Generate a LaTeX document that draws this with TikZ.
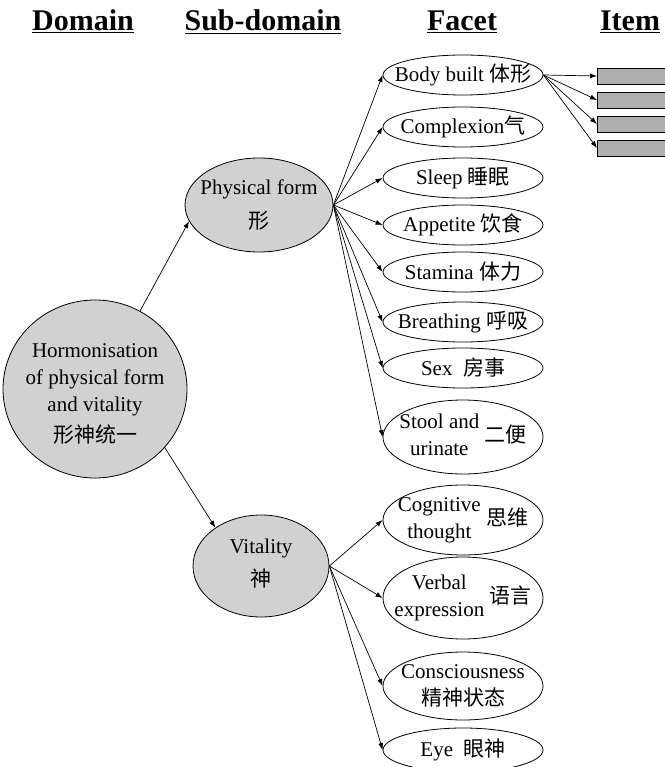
\documentclass[tikz,border=0pt]{standalone}
\usepackage{fontspec}
\setmainfont{Liberation Serif}
\newfontfamily\cjk{Noto Sans CJK SC}
\usetikzlibrary{shapes.geometric,arrows.meta}
\newcommand{\twolines}[2]{\begin{tabular}{@{}c@{}}#1\\#2\end{tabular}}

\begin{document}
\begin{tikzpicture}[x=1pt,y=-1pt,line width=0.8pt,
    arr/.style={-{Latex[length=7pt,width=5pt]},line width=0.7pt},
    blob/.style={draw,ellipse,fill=gray!36,inner sep=0pt},
    facet/.style={draw,ellipse,inner sep=0pt,minimum width=160pt},
    itembox/.style={draw,fill=gray!62,minimum width=72pt,minimum height=16pt,inner sep=0pt,anchor=west},
    head/.style={font=\fontsize{30}{32}\selectfont\bfseries,anchor=base},
    every label/.style={font=\fontsize{21}{27}\selectfont,align=center}]
  	\useasboundingbox (0,0) rectangle (664,767);
  	% column titles
  	\node[head] (hdom) at (83,31) {\underline{Domain}};
  	\node[head] (hsub) at (263,31) {\underline{Sub-domain}};
  	\node[head] (hfac) at (462,31) {\underline{Facet}};
  	\node[head] (hitem) at (630,31) {\underline{Item}};
  	% domain and sub-domains
  	\node[blob,minimum width=184pt,minimum height=178pt,
  	  label={[yshift=-5pt]center:Hormonisation\\of physical form\\and vitality\\[4pt]{\cjk 形神统一}}] (dom) at (95,389) {};
  	\node[blob,minimum width=148pt,minimum height=94pt,
  	  label={center:Physical form\\[7pt]{\cjk 形}}] (phys) at (259,205) {};
  	\node[blob,minimum width=136pt,minimum height=102pt,
  	  label={[yshift=2pt]center:Vitality\\[6pt]{\cjk 神}}] (vit) at (261,566) {};
  	\draw[arr] (dom.60) -- (phys.193);
  	\draw[arr] (dom.-40) -- (vit.140);
  	% facets
  	\foreach \n/\y/\ry/\t in {1/75/20/{Body built {\cjk 体形}},2/127/20/{Complexion{\cjk 气}},3/178/20/{Sleep {\cjk 睡眠}},4/225/20/{Appetite {\cjk 饮食}},5/272/20/{Stamina {\cjk 体力}},6/322/20/{Breathing {\cjk 呼吸}},7/368/20/{Sex\ \ {\cjk 房事}},8/437/37/{\twolines{Stool and}{urinate} {\cjk 二便}},9/520/35/{\twolines{Cognitive}{thought} {\cjk 思维}},10/598/41/{\twolines{Verbal}{expression} {\cjk 语言}},11/686/34/{Consciousness\\{\cjk 精神状态}},12/750/22/{Eye\ \ {\cjk 眼神}}}
  	{
  		\node[facet,minimum height=2*\ry,label={center:\t}] (f\n) at (463,\y) {};
  	}
  	\foreach \n in {1,...,8} \draw[arr] (phys.east) -- (f\n.west);
  	\foreach \n in {9,...,12} \draw[arr] (vit.east) -- (f\n.west);
  	% items
  	\foreach \n/\y in {1/76,2/100,3/124,4/148}
  	{
  		\node[itembox] (i\n) at (597,\y) {};
  		\draw[arr] (f1.east) -- (i\n.west);
  	}
\end{tikzpicture}
\end{document}
